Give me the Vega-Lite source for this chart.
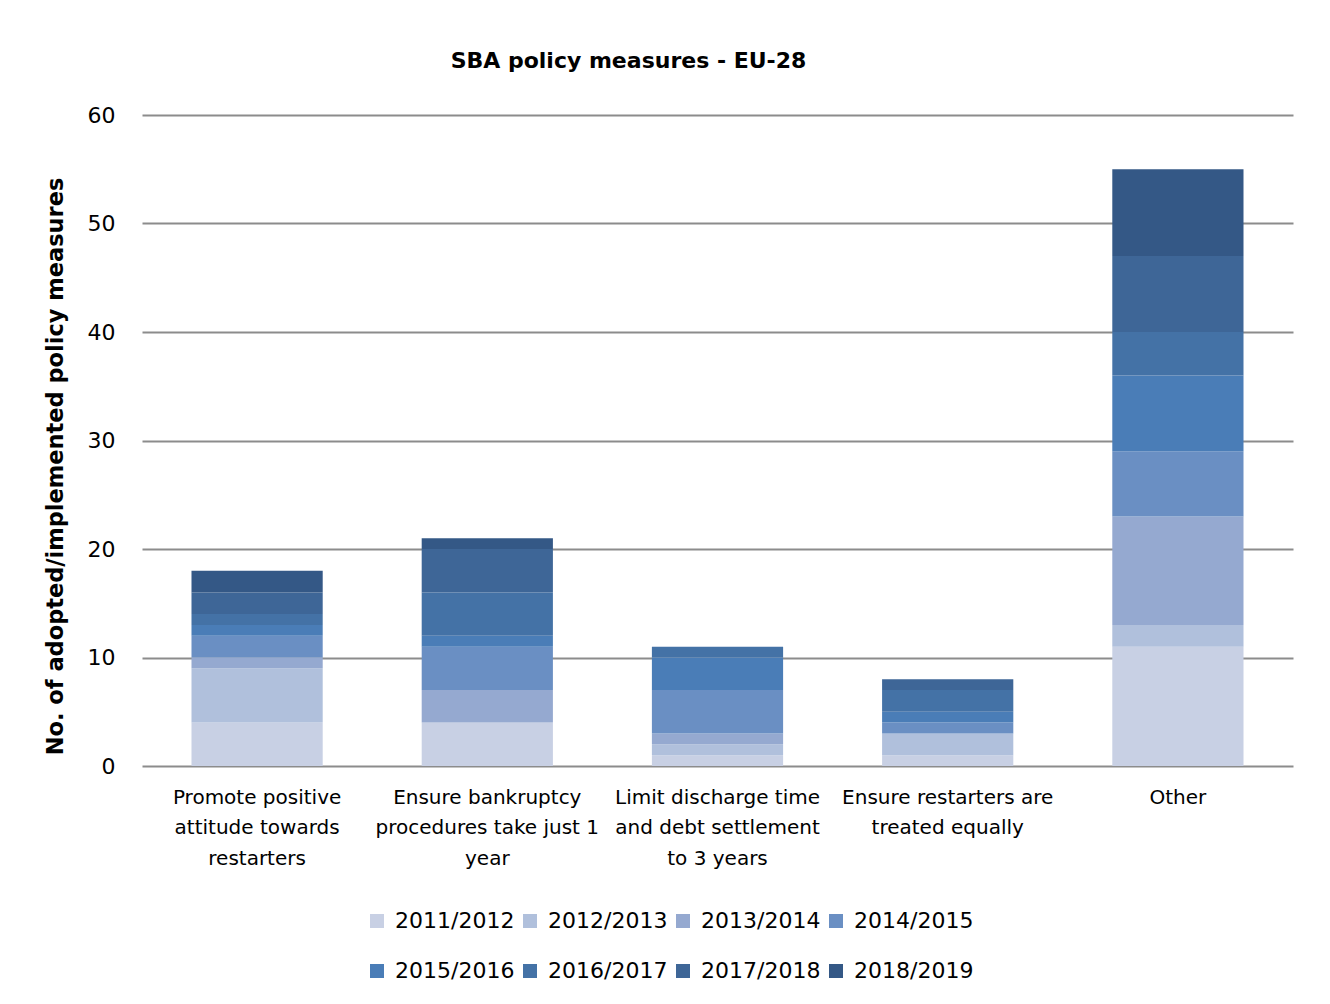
{
  "$schema": "https://vega.github.io/schema/vega-lite/v6.json",
  "autosize": {"type": "none"},
  "width": 1151,
  "height": 651,
  "padding": {"left": 142, "top": 115, "right": 37, "bottom": 238},
  "background": "white",
  "title": {
    "text": "SBA policy measures - EU-28",
    "font": "DejaVu Sans",
    "fontSize": 22,
    "fontWeight": "bold",
    "color": "#000000",
    "anchor": "middle",
    "dx": -89,
    "offset": 31
  },
  "data": {
    "values": [
      {"cat": "Promote positive|attitude towards|restarters", "year": "2011/2012", "v": 4},
      {"cat": "Promote positive|attitude towards|restarters", "year": "2012/2013", "v": 5},
      {"cat": "Promote positive|attitude towards|restarters", "year": "2013/2014", "v": 1},
      {"cat": "Promote positive|attitude towards|restarters", "year": "2014/2015", "v": 2},
      {"cat": "Promote positive|attitude towards|restarters", "year": "2015/2016", "v": 1},
      {"cat": "Promote positive|attitude towards|restarters", "year": "2016/2017", "v": 1},
      {"cat": "Promote positive|attitude towards|restarters", "year": "2017/2018", "v": 2},
      {"cat": "Promote positive|attitude towards|restarters", "year": "2018/2019", "v": 2},
      {"cat": "Ensure bankruptcy|procedures take just 1|year", "year": "2011/2012", "v": 4},
      {"cat": "Ensure bankruptcy|procedures take just 1|year", "year": "2012/2013", "v": 0},
      {"cat": "Ensure bankruptcy|procedures take just 1|year", "year": "2013/2014", "v": 3},
      {"cat": "Ensure bankruptcy|procedures take just 1|year", "year": "2014/2015", "v": 4},
      {"cat": "Ensure bankruptcy|procedures take just 1|year", "year": "2015/2016", "v": 1},
      {"cat": "Ensure bankruptcy|procedures take just 1|year", "year": "2016/2017", "v": 4},
      {"cat": "Ensure bankruptcy|procedures take just 1|year", "year": "2017/2018", "v": 4},
      {"cat": "Ensure bankruptcy|procedures take just 1|year", "year": "2018/2019", "v": 1},
      {"cat": "Limit discharge time|and debt settlement|to 3 years", "year": "2011/2012", "v": 1},
      {"cat": "Limit discharge time|and debt settlement|to 3 years", "year": "2012/2013", "v": 1},
      {"cat": "Limit discharge time|and debt settlement|to 3 years", "year": "2013/2014", "v": 1},
      {"cat": "Limit discharge time|and debt settlement|to 3 years", "year": "2014/2015", "v": 4},
      {"cat": "Limit discharge time|and debt settlement|to 3 years", "year": "2015/2016", "v": 3},
      {"cat": "Limit discharge time|and debt settlement|to 3 years", "year": "2016/2017", "v": 1},
      {"cat": "Limit discharge time|and debt settlement|to 3 years", "year": "2017/2018", "v": 0},
      {"cat": "Limit discharge time|and debt settlement|to 3 years", "year": "2018/2019", "v": 0},
      {"cat": "Ensure restarters are|treated equally", "year": "2011/2012", "v": 1},
      {"cat": "Ensure restarters are|treated equally", "year": "2012/2013", "v": 2},
      {"cat": "Ensure restarters are|treated equally", "year": "2013/2014", "v": 0},
      {"cat": "Ensure restarters are|treated equally", "year": "2014/2015", "v": 1},
      {"cat": "Ensure restarters are|treated equally", "year": "2015/2016", "v": 1},
      {"cat": "Ensure restarters are|treated equally", "year": "2016/2017", "v": 2},
      {"cat": "Ensure restarters are|treated equally", "year": "2017/2018", "v": 1},
      {"cat": "Ensure restarters are|treated equally", "year": "2018/2019", "v": 0},
      {"cat": "Other", "year": "2011/2012", "v": 11},
      {"cat": "Other", "year": "2012/2013", "v": 2},
      {"cat": "Other", "year": "2013/2014", "v": 10},
      {"cat": "Other", "year": "2014/2015", "v": 6},
      {"cat": "Other", "year": "2015/2016", "v": 7},
      {"cat": "Other", "year": "2016/2017", "v": 4},
      {"cat": "Other", "year": "2017/2018", "v": 7},
      {"cat": "Other", "year": "2018/2019", "v": 8}
    ]
  },
  "transform": [
    {"calculate": "indexof(['2011/2012','2012/2013','2013/2014','2014/2015','2015/2016','2016/2017','2017/2018','2018/2019'], datum.year)", "as": "ord"}
  ],
  "mark": {"type": "bar", "stroke": null},
  "encoding": {
    "x": {
      "field": "cat",
      "type": "nominal",
      "sort": null,
      "scale": {"paddingInner": 0.43, "paddingOuter": 0.215},
      "axis": {
        "title": null,
        "labelAngle": 0,
        "labelExpr": "split(datum.label, '|')",
        "labelFont": "DejaVu Sans",
        "labelFontSize": 20,
        "labelLimit": 0,
        "labelColor": "#000000",
        "labelLineHeight": 30.5,
        "labelPadding": 21,
        "ticks": false,
        "domain": false
      }
    },
    "y": {
      "field": "v",
      "type": "quantitative",
      "stack": "zero",
      "scale": {"domain": [0, 60]},
      "axis": {
        "values": [0, 10, 20, 30, 40, 50, 60],
        "title": "No. of adopted/implemented policy measures",
        "titleFont": "DejaVu Sans",
        "titleFontSize": 22.5,
        "titleFontWeight": "bold",
        "titleColor": "#000000",
        "titlePadding": 20,
        "titleY": 351,
        "labelFont": "DejaVu Sans",
        "labelFontSize": 22,
        "labelColor": "#000000",
        "labelPadding": 27,
        "ticks": false,
        "domain": false,
        "grid": true,
        "gridColor": "#8c8c8c",
        "gridWidth": 2
      }
    },
    "color": {
      "field": "year",
      "type": "nominal",
      "scale": {
        "domain": ["2011/2012", "2012/2013", "2013/2014", "2014/2015", "2015/2016", "2016/2017", "2017/2018", "2018/2019"],
        "range": ["#c8d0e4", "#b0c0dc", "#95a9d0", "#6a8fc3", "#4a7db7", "#4472a6", "#3e6697", "#345886"]
      },
      "legend": {
        "title": null,
        "orient": "none",
        "legendX": 224,
        "legendY": 795,
        "direction": "horizontal",
        "columns": 4,
        "symbolType": "square",
        "symbolSize": 196,
        "symbolStrokeWidth": 0,
        "labelFont": "DejaVu Sans",
        "labelFontSize": 22,
        "labelColor": "#000000",
        "labelOffset": 7,
        "columnPadding": 4,
        "rowPadding": 28
      }
    },
    "order": {"field": "ord", "type": "quantitative"}
  },
  "config": {
    "view": {"stroke": null}
  }
}
